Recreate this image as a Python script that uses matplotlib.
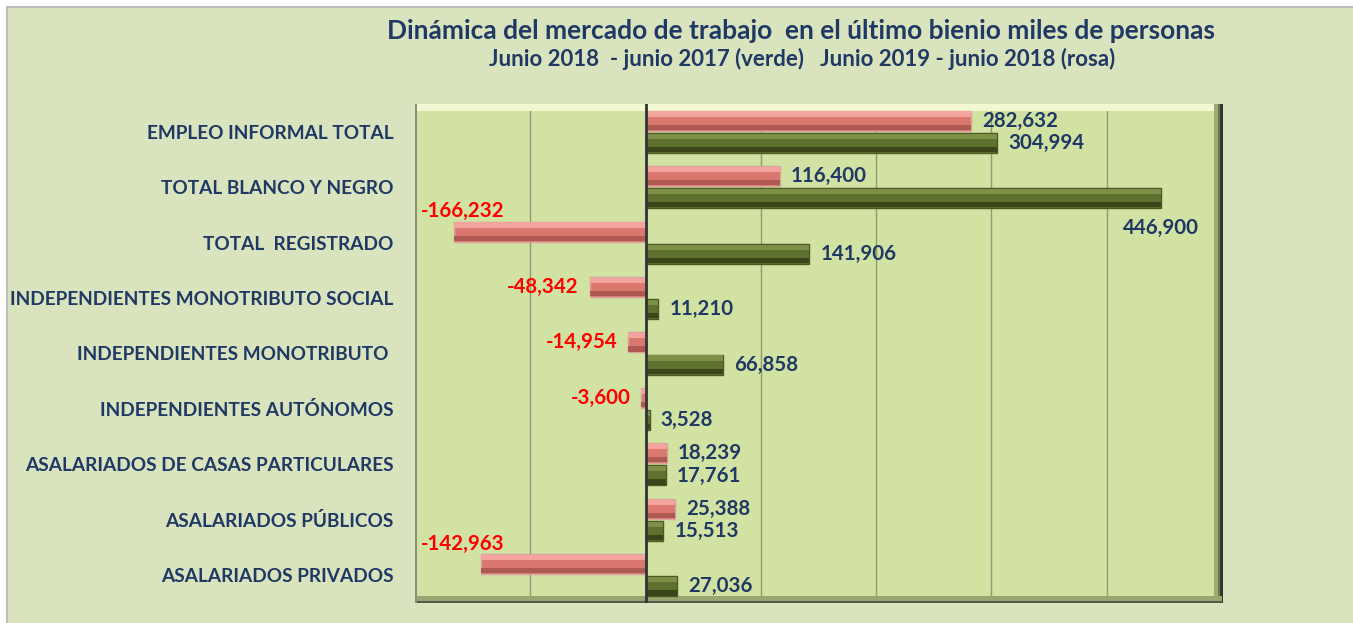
import matplotlib
matplotlib.use('Agg')
import matplotlib.pyplot as plt
from matplotlib.patches import Rectangle
import numpy as np

# Categories top to bottom
categories = ['EMPLEO INFORMAL TOTAL', 'TOTAL BLANCO Y NEGRO', 'TOTAL  REGISTRADO',
              'INDEPENDIENTES MONOTRIBUTO SOCIAL', 'INDEPENDIENTES MONOTRIBUTO ',
              'INDEPENDIENTES AUTÓNOMOS', 'ASALARIADOS DE CASAS PARTICULARES',
              'ASALARIADOS PÚBLICOS', 'ASALARIADOS PRIVADOS']

# Junio 2019 - junio 2018 (rosa)
rosa = [282632, 116400, -166232, -48342, -14954, -3600, 18239, 25388, -142963]
# Junio 2018 - junio 2017 (verde)
verde = [304994, 446900, 141906, 11210, 66858, 3528, 17761, 15513, 27036]

title = 'Dinámica del mercado de trabajo  en el último bienio miles de personas'
subtitle = 'Junio 2018  - junio 2017 (verde)   Junio 2019 - junio 2018 (rosa)'

navy = '#1F3864'
font = 'Lato'

W, H = 1353, 623
fig = plt.figure(figsize=(W / 100, H / 100), dpi=100)
fig.patch.set_facecolor('white')

# chart area background with thin gray frame
bg = Rectangle((7 / W, -0.01), 1.02, 1 - 7 / H + 0.01, transform=fig.transFigure,
               facecolor='#D9E3BE', edgecolor='#BDBDBD', lw=1.5, zorder=-10)
fig.add_artist(bg)

fig.text(801 / W, 1 - 31 / H, title, ha='center', va='center', color=navy,
         fontsize=19, fontweight='bold', family=font)
fig.text(802 / W, 1 - 59 / H, subtitle, ha='center', va='center', color=navy,
         fontsize=16, fontweight='bold', family=font)

left, right, top, bottom = 415, 1222, 104, 603
ax = fig.add_axes([left / W, 1 - bottom / H, (right - left) / W, (bottom - top) / H])
ax.set_facecolor('#D2E2A3')

ax.set_xlim(-200000, 500000)
n = len(categories)
ax.set_ylim(n - 0.5, -0.5)
for s in ax.spines.values():
    s.set_visible(False)

ax.set_xticks(np.arange(-200000, 500001, 100000))
ax.tick_params(axis='x', length=0, labelbottom=False)
ax.xaxis.grid(True, color='#8E9B72', lw=1)
ax.set_axisbelow(True)

y = np.arange(n)
ax.set_yticks(y)
ax.set_yticklabels(categories, fontsize=13.7, fontweight='bold', color=navy, family=font)
ax.tick_params(axis='y', length=0, pad=15.5)

# plot area bevel
ax.add_patch(Rectangle((0, 0.985), 1, 0.015, transform=ax.transAxes, facecolor='#F1F8D2',
                       edgecolor='none', clip_on=False, zorder=1))
ax.add_patch(Rectangle((0.99, 0), 0.01, 1, transform=ax.transAxes, facecolor='#9FAB74',
                       edgecolor='none', clip_on=False, zorder=1))
ax.add_patch(Rectangle((0.995, 0), 0.006, 1, transform=ax.transAxes, facecolor='#6F7752',
                       edgecolor='none', clip_on=False, zorder=1))
ax.add_patch(Rectangle((0.998, 0), 0.003, 1, transform=ax.transAxes, facecolor='#35382C',
                       edgecolor='none', clip_on=False, zorder=1))
ax.add_patch(Rectangle((0, 0), 1, 0.014, transform=ax.transAxes, facecolor='#9AA672',
                       edgecolor='none', clip_on=False, zorder=1))
ax.add_patch(Rectangle((0, 0), 1, 0.004, transform=ax.transAxes, facecolor='#55594A',
                       edgecolor='none', clip_on=False, zorder=1))
ax.add_patch(Rectangle((0, 0), 0.0025, 1, transform=ax.transAxes, facecolor='#8A8F80',
                       edgecolor='none', clip_on=False, zorder=1))

h = 0.36
off = 0.2
bands = [('#D9A39D', '#F3A49E', '#DA7870', '#AE5A53'),
         ('#4A5A22', '#7D9046', '#5E7230', '#3A4619')]


def bevel_bars(pos, vals, cols):
    edge, light, mid, dark = cols
    ax.barh(pos, vals, height=h, color=mid, edgecolor=edge, lw=1, zorder=3)
    ax.barh(pos - h * 0.33, vals, height=h * 0.26, color=light, edgecolor='none', zorder=4)
    ax.barh(pos + h * 0.33, vals, height=h * 0.26, color=dark, edgecolor='none', zorder=4)


bevel_bars(y - off, np.array(rosa), bands[0])
bevel_bars(y + off, np.array(verde), bands[1])

ax.axvline(0, color='#333333', lw=2, zorder=5)

lab_kw = dict(fontsize=14.8, fontweight='bold', family=font, va='center', zorder=6)
for vals, pos in ((rosa, y - off), (verde, y + off)):
    for v, p in zip(vals, pos):
        txt = f'{v:,}'
        if v >= 0:
            if v > 400000:
                ax.annotate(txt, (v, p + 0.54), ha='center', color=navy, **lab_kw)
            else:
                ax.annotate(txt, (v, p), xytext=(8, 0), textcoords='offset points',
                            ha='left', color=navy, **lab_kw)
        else:
            if v < -100000:
                ax.annotate(txt, (-200000, p - 0.37), xytext=(4, 0), textcoords='offset points',
                            ha='left', color='#FF0000', **lab_kw)
            else:
                ax.annotate(txt, (v, p), xytext=(-8, 0), textcoords='offset points',
                            ha='right', color='#FF0000', **lab_kw)

fig.savefig('out.png', dpi=100)
